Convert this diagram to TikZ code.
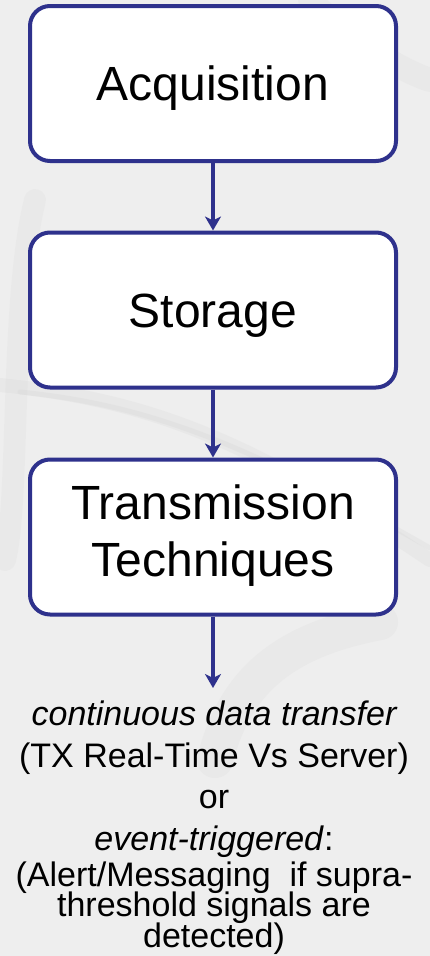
\documentclass[tikz,border=0pt]{standalone}
\usepackage{fontspec}
\setmainfont{Liberation Sans}
\usetikzlibrary{arrows.meta}
\definecolor{boxblue}{RGB}{46,49,140}
\definecolor{bgmarble}{RGB}{238,238,238}
\definecolor{streak}{RGB}{205,205,205}
\begin{document}
\begin{tikzpicture}[x=1pt,y=-1pt,
  stagebox/.style={draw=boxblue, line width=4pt, fill=white, rounded corners=20pt,
    minimum width=366pt, minimum height=155pt, inner sep=0pt, align=center,
    font=\fontsize{48}{57}\selectfont},
  oneline/.style={text height=34.5pt, text depth=0pt},
  flow/.style={draw=boxblue, line width=3.5pt, -{Stealth[length=14pt,width=16pt,inset=4pt]}},
  note/.style={font=\fontsize{34}{41}\selectfont, anchor=base, inner sep=0pt},
  streakline/.style={draw=streak, line cap=round}]
\fill[bgmarble] (0,0) rectangle (430,956);
\useasboundingbox (0,0) rectangle (430,956);
% faint marble streaks
\draw[streakline, line width=14pt, opacity=0.18] (0,385) .. controls (150,400) and (250,440) .. (430,560);
\draw[streakline, line width=5pt, opacity=0.2] (20,392) .. controls (150,405) and (250,445) .. (430,548);
\draw[streakline, line width=36pt, opacity=0.15] (215,760) .. controls (235,680) and (285,640) .. (380,622);
\draw[streakline, line width=22pt, opacity=0.12] (5,560) .. controls (20,500) and (10,300) .. (35,200);
\draw[streakline, line width=24pt, opacity=0.15] (310,0) .. controls (350,40) and (400,70) .. (430,80);
% stages
\node[stagebox, oneline] (acq) at (213,83.5) {Acquisition};
\node[stagebox, oneline] (sto) at (213,310) {Storage};
\node[stagebox] (trans) at (213,537) {\raisebox{-6pt}{\begin{tabular}{@{}c@{}}Transmission\\Techniques\end{tabular}}};
\coordinate (out) at (213,688);
% connectors
\draw[flow] (acq.south) -- (sto.north);
\draw[flow] (sto.south) -- (trans.north);
\draw[flow] (trans.south) -- (out);
% description
\node[note] (l1) at (214,725) {\itshape continuous data transfer};
\node[note] (l2) at (214,767) {(TX Real-Time Vs Server)};
\node[note] (l3) at (214,808) {or};
\node[note] (l4) at (214,850) {\textit{event-triggered}:};
\node[note] (l5) at (214,886) {(Alert/Messaging\ \ if supra-};
\node[note] (l6) at (214,916) {threshold signals are};
\node[note] (l7) at (214,947) {detected)};
\end{tikzpicture}
\end{document}
